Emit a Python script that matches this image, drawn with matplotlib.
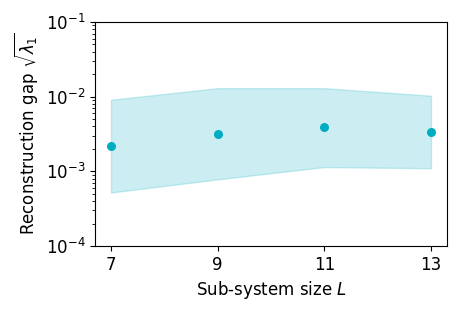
import matplotlib
matplotlib.use("Agg")
import matplotlib.pyplot as plt

L = [7, 9, 11, 13]
gap = [2.16e-3, 3.18e-3, 3.88e-3, 3.36e-3]
upper = [9.1e-3, 1.30e-2, 1.30e-2, 1.03e-2]
lower = [5.2e-4, 7.8e-4, 1.14e-3, 1.10e-3]

color = '#00acc1'
fig = plt.figure(figsize=(4.69, 3.13), dpi=100)
ax = fig.add_axes([95/469, 1-246/313, (447-95)/469, (246-22)/313])
ax.fill_between(L, lower, upper, color=color, alpha=0.2, linewidth=1)
ax.scatter(L, gap, color=color, s=30, zorder=3)
ax.set_yscale('log')
ax.set_ylim(1e-4, 1e-1)
ax.set_xticks(L)
ax.tick_params(labelsize=12)
ax.set_xlabel('Sub-system size $L$', fontsize=12)
ax.set_ylabel('Reconstruction gap $\\sqrt{\\lambda_1}$', fontsize=12)
fig.savefig('out.png', dpi=100)
